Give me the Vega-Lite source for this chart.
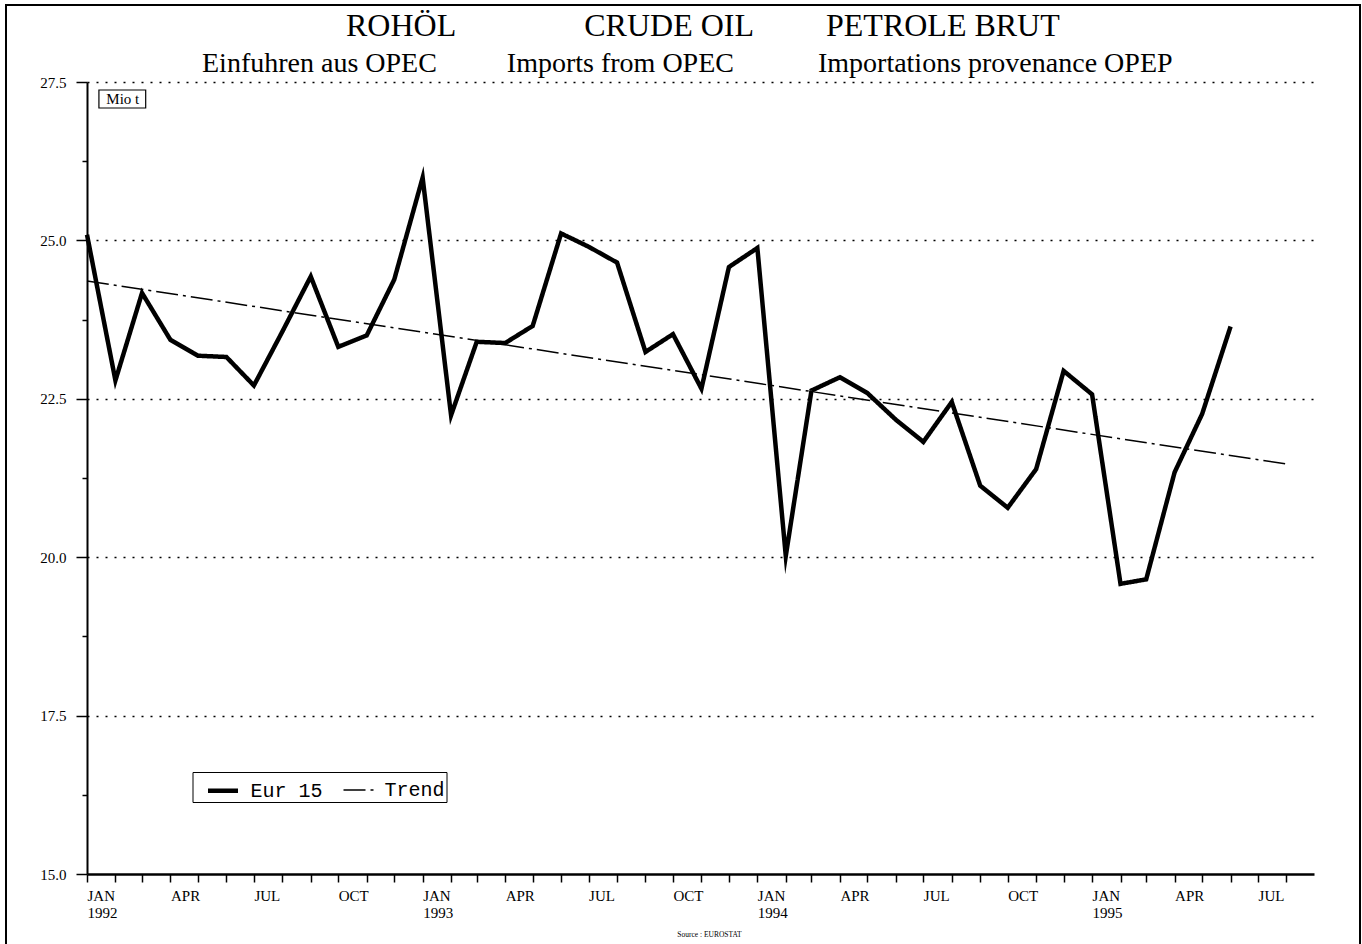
{
  "$schema": "https://vega.github.io/schema/vega-lite/v6.json",
  "width": 1354,
  "height": 943,
  "autosize": {"type": "none"},
  "padding": {"left": 6, "top": 5, "right": 2, "bottom": -4},
  "background": "white",
  "config": {
    "view": {"stroke": "black", "strokeWidth": 2},
    "font": "Liberation Serif",
    "legend": {
      "orient": "none",
      "legendX": 186.5,
      "legendY": 767,
      "direction": "horizontal",
      "symbolType": "stroke",
      "symbolSize": 900,
      "symbolStrokeColor": "black",
      "symbolOffset": 12,
      "labelFont": "Liberation Mono",
      "labelFontSize": 20,
      "labelColor": "black",
      "labelOffset": 10,
      "labelExpr": "datum.label == 'Trend' ? 'Trend\u00a0\u200b' : datum.label",
      "columnPadding": 7,
      "padding": 1,
      "strokeColor": "black",
      "fillColor": "white"
    }
  },
  "title": {
    "text": "\u200b\u00a0\u00a0\u00a0\u00a0\u00a0\u00a0\u00a0\u00a0\u00a0\u00a0\u00a0\u00a0\u00a0\u00a0\u00a0\u00a0\u00a0\u00a0ROHÖL\u00a0\u00a0\u00a0\u00a0\u00a0\u00a0\u00a0\u00a0\u00a0\u00a0\u00a0\u00a0\u00a0\u00a0\u00a0\u00a0CRUDE OIL\u00a0\u00a0\u00a0\u00a0\u00a0\u00a0\u00a0\u00a0\u00a0PETROLE BRUT",
    "subtitle": "Einfuhren aus OPEC\u00a0\u00a0\u00a0\u00a0\u00a0\u00a0\u00a0\u00a0\u00a0\u00a0Imports from OPEC\u00a0\u00a0\u00a0\u00a0\u00a0\u00a0\u00a0\u00a0\u00a0\u00a0\u00a0\u00a0Importations provenance OPEP",
    "anchor": "start",
    "frame": "group",
    "orient": "top",
    "offset": -74,
    "dx": 196,
    "font": "Liberation Serif",
    "fontSize": 32,
    "fontWeight": "normal",
    "color": "black",
    "subtitleFont": "Liberation Serif",
    "subtitleFontSize": 28,
    "subtitleColor": "black",
    "subtitlePadding": 7
  },
  "data": {
    "values": [
      {"date": "1992-01-01", "series": "Eur 15", "value": 25.09},
      {"date": "1992-02-01", "series": "Eur 15", "value": 22.79},
      {"date": "1992-03-01", "series": "Eur 15", "value": 24.17},
      {"date": "1992-04-01", "series": "Eur 15", "value": 23.43},
      {"date": "1992-05-01", "series": "Eur 15", "value": 23.18},
      {"date": "1992-06-01", "series": "Eur 15", "value": 23.16},
      {"date": "1992-07-01", "series": "Eur 15", "value": 22.71},
      {"date": "1992-08-01", "series": "Eur 15", "value": 23.56},
      {"date": "1992-09-01", "series": "Eur 15", "value": 24.43},
      {"date": "1992-10-01", "series": "Eur 15", "value": 23.32},
      {"date": "1992-11-01", "series": "Eur 15", "value": 23.5},
      {"date": "1992-12-01", "series": "Eur 15", "value": 24.38},
      {"date": "1993-01-01", "series": "Eur 15", "value": 25.99},
      {"date": "1993-02-01", "series": "Eur 15", "value": 22.24},
      {"date": "1993-03-01", "series": "Eur 15", "value": 23.4},
      {"date": "1993-04-01", "series": "Eur 15", "value": 23.38},
      {"date": "1993-05-01", "series": "Eur 15", "value": 23.65},
      {"date": "1993-06-01", "series": "Eur 15", "value": 25.11},
      {"date": "1993-07-01", "series": "Eur 15", "value": 24.9},
      {"date": "1993-08-01", "series": "Eur 15", "value": 24.65},
      {"date": "1993-09-01", "series": "Eur 15", "value": 23.24},
      {"date": "1993-10-01", "series": "Eur 15", "value": 23.52},
      {"date": "1993-11-01", "series": "Eur 15", "value": 22.66},
      {"date": "1993-12-01", "series": "Eur 15", "value": 24.58},
      {"date": "1994-01-01", "series": "Eur 15", "value": 24.88},
      {"date": "1994-02-01", "series": "Eur 15", "value": 20.02},
      {"date": "1994-03-01", "series": "Eur 15", "value": 22.63},
      {"date": "1994-04-01", "series": "Eur 15", "value": 22.84},
      {"date": "1994-05-01", "series": "Eur 15", "value": 22.59},
      {"date": "1994-06-01", "series": "Eur 15", "value": 22.17},
      {"date": "1994-07-01", "series": "Eur 15", "value": 21.82},
      {"date": "1994-08-01", "series": "Eur 15", "value": 22.45},
      {"date": "1994-09-01", "series": "Eur 15", "value": 21.13},
      {"date": "1994-10-01", "series": "Eur 15", "value": 20.78},
      {"date": "1994-11-01", "series": "Eur 15", "value": 21.39},
      {"date": "1994-12-01", "series": "Eur 15", "value": 22.94},
      {"date": "1995-01-01", "series": "Eur 15", "value": 22.57},
      {"date": "1995-02-01", "series": "Eur 15", "value": 19.58},
      {"date": "1995-03-01", "series": "Eur 15", "value": 19.65},
      {"date": "1995-04-01", "series": "Eur 15", "value": 21.34},
      {"date": "1995-05-01", "series": "Eur 15", "value": 22.26},
      {"date": "1995-06-01", "series": "Eur 15", "value": 23.64},
      {"date": "1992-01-01", "series": "Trend", "value": 24.36},
      {"date": "1995-08-01", "series": "Trend", "value": 21.47}
    ]
  },
  "layer": [
    {
      "mark": {"type": "line", "color": "black", "strokeCap": "butt", "strokeJoin": "miter", "strokeMiterLimit": 10},
      "encoding": {
        "x": {
          "field": "date",
          "type": "temporal",
          "scale": {
            "type": "utc",
            "domain": [
              {"year": 1992, "month": 1, "date": 1, "utc": true},
              {"year": 1995, "month": 8, "date": 31, "utc": true}
            ],
            "range": [81, 1308]
          },
          "axis": {
            "orient": "bottom",
            "offset": -74,
            "tickCount": {"interval": "month", "step": 1},
            "labelExpr": "utcmonth(datum.value) == 0 ? ['JAN', utcFormat(datum.value, '%Y')] : (utcmonth(datum.value) % 3 == 0 ? upper(utcFormat(datum.value, '%b')) : '')",
            "labelAlign": "left",
            "labelBaseline": "top",
            "labelPadding": 6,
            "labelLineHeight": 17,
            "labelFont": "Liberation Serif",
            "labelFontSize": 15,
            "labelColor": "black",
            "labelOverlap": false,
            "labelFlush": false,
            "labelBound": false,
            "tickSize": 8,
            "tickWidth": 1.5,
            "tickColor": "black",
            "domainColor": "black",
            "domainWidth": 2.5,
            "grid": false,
            "title": "Source : EUROSTAT",
            "titleFont": "Liberation Serif",
            "titleFontSize": 7.5,
            "titleFontWeight": "normal",
            "titleColor": "black",
            "titleX": 703,
            "titleY": 60,
            "titleAlign": "center",
            "titleBaseline": "middle"
          }
        },
        "y": {
          "field": "value",
          "type": "quantitative",
          "scale": {"domain": [15, 27.5], "range": [869, 77], "nice": false, "zero": false},
          "axis": {
            "orient": "left",
            "offset": -81,
            "values": [15, 16.25, 17.5, 18.75, 20, 21.25, 22.5, 23.75, 25, 26.25, 27.5],
            "labelExpr": "datum.value % 2.5 == 0 ? format(datum.value, '.1f') : ''",
            "tickSize": {"condition": {"test": "datum.value % 2.5 == 0", "value": 11}, "value": 5},
            "tickWidth": 1.5,
            "tickColor": "black",
            "grid": true,
            "gridOpacity": {"condition": {"test": "datum.value % 2.5 == 0 && datum.value > 15", "value": 1}, "value": 0},
            "gridDash": [2, 7],
            "gridColor": "black",
            "gridWidth": 1.5,
            "domainColor": "black",
            "domainWidth": 2,
            "labelFont": "Liberation Serif",
            "labelFontSize": 15,
            "labelColor": "black",
            "labelPadding": 10,
            "title": null
          }
        },
        "strokeWidth": {
          "field": "series",
          "type": "nominal",
          "scale": {"domain": ["Eur 15", "Trend"], "range": [4.5, 1.5]},
          "legend": {"title": null}
        },
        "strokeDash": {
          "field": "series",
          "type": "nominal",
          "scale": {"domain": ["Eur 15", "Trend"], "range": [[1, 0], [22, 5, 3, 5]]},
          "legend": {"title": null}
        }
      }
    },
    {
      "data": {"values": [{}]},
      "mark": {"type": "rect", "fill": "white", "stroke": "black", "strokeWidth": 1.2},
      "encoding": {
        "x": {"datum": {"year": 1992, "month": 1, "date": 14, "utc": true}, "type": "temporal"},
        "x2": {"datum": {"year": 1992, "month": 3, "date": 5, "utc": true}},
        "y": {"datum": 27.374, "type": "quantitative"},
        "y2": {"datum": 27.09}
      }
    },
    {
      "data": {"values": [{}]},
      "mark": {"type": "text", "text": "Mio t", "font": "Liberation Serif", "fontSize": 15, "color": "black", "align": "center", "baseline": "middle"},
      "encoding": {
        "x": {"datum": {"year": 1992, "month": 2, "date": 9, "utc": true}, "type": "temporal"},
        "y": {"datum": 27.23, "type": "quantitative"}
      }
    }
  ]
}
